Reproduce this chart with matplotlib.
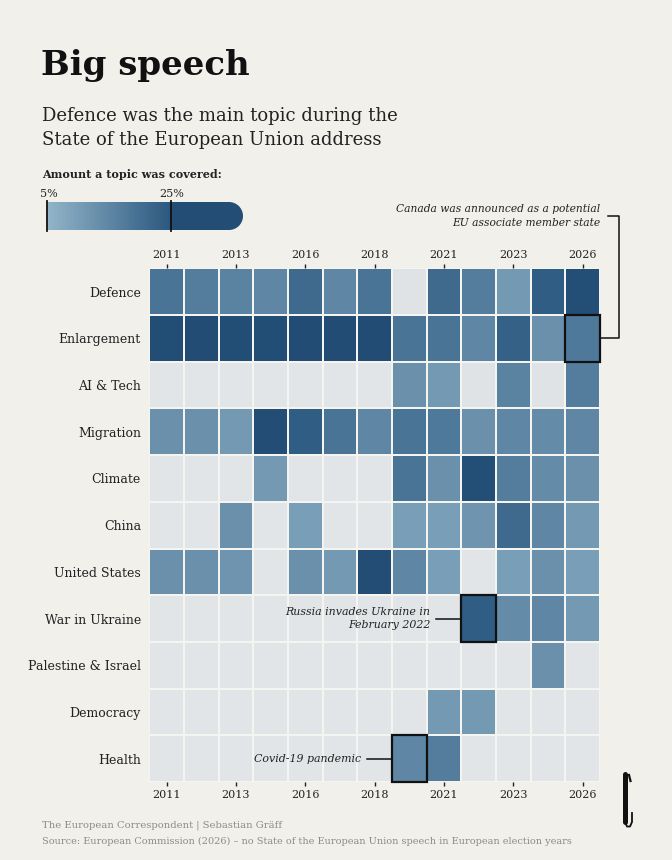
import numpy as np
import matplotlib
matplotlib.use("Agg")
import matplotlib.pyplot as plt
from matplotlib.colors import LinearSegmentedColormap, Normalize
from matplotlib.patches import Rectangle, Circle
from matplotlib.lines import Line2D

# speech years (no speech in European election years)
years = [2011, 2012, 2013, 2015, 2016, 2017, 2018, 2020, 2021, 2022, 2023, 2025, 2026]
topics = ["Defence", "Enlargement", "AI & Tech", "Migration", "Climate", "China",
          "United States", "War in Ukraine", "Palestine & Israel", "Democracy", "Health"]

# share of speech per topic (%)
defence = [19, 17, 16, 15, 21, 15, 19, 2, 21, 17, 11, 24, 25]
enlargement = [28, 29, 28, 28, 29, 29, 30, 19, 19, 15, 23, 13, 18]
ai_tech = [1, 1, 1, 1, 1, 1, 1, 13, 11, 2, 16, 2, 17]
migration = [13, 13, 11, 27, 24, 19, 15, 19, 18, 13, 15, 14, 15]
climate = [1, 1, 1, 11, 1, 1, 1, 19, 13, 25, 17, 14, 13]
china = [1, 1, 13, 1, 10, 1, 1, 10, 10, 12, 21, 15, 11]
united_states = [13, 13, 12, 1, 13, 11, 27, 15, 10, 1, 10, 13, 10]
war_ukraine = [1, 1, 1, 1, 1, 1, 1, 1, 1, 24, 14, 15, 11]
palestine_israel = [1, 1, 1, 1, 1, 1, 1, 1, 1, 1, 1, 13, 1]
democracy = [1, 1, 1, 1, 1, 1, 1, 1, 11, 11, 1, 1, 1]
health = [1, 1, 1, 1, 1, 1, 1, 15, 17, 1, 1, 1, 1]

legend_ticks = [5, 25]

# highlighted cells: (year, topic, note)
notes = [
    (2026, "Enlargement", "Canada was announced as a potential\nEU associate member state"),
    (2022, "War in Ukraine", "Russia invades Ukraine in\nFebruary 2022"),
    (2020, "Health", "Covid-19 pandemic"),
]

data = np.array([defence, enlargement, ai_tech, migration, climate, china,
                 united_states, war_ukraine, palestine_israel, democracy, health])

W, H = 672, 860
BG = "#f1f0eb"
plt.rcParams["font.family"] = "DejaVu Serif"


def fx(x):
    return x / W


def fy(y):
    return 1 - y / H


vmax = 30
cmap = LinearSegmentedColormap.from_list("speech", [
    (0, "#e4e7e8"), (4.99 / vmax, "#d8dee1"), (5 / vmax, "#93b5c9"),
    (25 / vmax, "#2b5880"), (25.01 / vmax, "#234e76"), (1, "#224c74")])
norm = Normalize(0, vmax)

fig = plt.figure(figsize=(W / 100, H / 100), dpi=100, facecolor=BG)

# titles
fig.text(fx(41), fy(75), "Big speech", fontsize=24.5, weight="bold", color="#111")
fig.text(fx(42), fy(121), "Defence was the main topic during the", fontsize=13, color="#222")
fig.text(fx(42), fy(145), "State of the European Union address", fontsize=13, color="#222")
fig.text(fx(42), fy(178), "Amount a topic was covered:", fontsize=8, weight="bold", color="#222")

# legend bar
lx0, lx1, lx_end = 47.5, 171, 243
lax = fig.add_axes([fx(40), fy(234), fx(210), (234 - 185) / H])
lax.set_xlim(40, 250)
lax.set_ylim(234, 185)
lax.axis("off")
grad = np.linspace(legend_ticks[0], legend_ticks[1], 256)[None, :]
lax.imshow(grad, cmap=cmap, norm=norm, extent=[lx0, lx1, 230, 202], aspect="auto")
r = 14
lax.add_patch(Rectangle((lx1, 202), lx_end - r - lx1, 28, color=cmap(norm(27)), lw=0))
lax.add_patch(Circle((lx_end - r, 216), r, color=cmap(norm(27)), lw=0))
for t, xp in zip(legend_ticks, [lx0, lx1]):
    lax.plot([xp, xp], [201, 231], color="#111", lw=1.3)
    lax.text(xp + 1, 197, f"{t}%", ha="center", va="baseline", fontsize=8, color="#222")

# heatmap
ax = fig.add_axes([fx(149.3), fy(782), fx(600) - fx(149.3), (782 - 268.3) / H])
ax.set_facecolor(BG)
ax.pcolormesh(data, cmap=cmap, norm=norm, edgecolors="#f4f4f1", linewidth=1.2)
ax.set_xlim(0, len(years))
ax.set_ylim(len(topics), 0)
ax.set_xticks(np.arange(0, len(years), 2) + 0.5, labels=[str(y) for y in years[::2]])
ax.set_yticks(np.arange(len(topics)) + 0.5, labels=topics)
ax.tick_params(axis="x", top=True, labeltop=True, bottom=True, labelbottom=True,
               length=3, width=1, color="#222", pad=3, labelsize=8, labelcolor="#222")
ax.tick_params(axis="y", length=0, pad=6, labelsize=9, labelcolor="#222")
for s in ax.spines.values():
    s.set_visible(False)

# highlighted cells and notes
for yr, topic, note in notes:
    c = years.index(yr)
    rr = topics.index(topic)
    ax.add_patch(Rectangle((c, rr), 1, 1, fill=False, ec="#111", lw=1.6, clip_on=False, zorder=5))
    if yr == 2026:
        ty = -1.12
        ax.text(c + 1, ty, note, ha="right", va="center", fontsize=7.7, style="italic",
                color="#222", linespacing=1.4)
        ax.plot([c + 1.23, c + 1.56, c + 1.56, c + 1], [ty, ty, rr + 0.5, rr + 0.5],
                color="#111", lw=1.1, clip_on=False)
    else:
        ax.text(c - 0.9, rr + 0.5, note, ha="right", va="center", fontsize=7.9, style="italic",
                color="#222", linespacing=1.4)
        ax.plot([c - 0.72, c], [rr + 0.5, rr + 0.5], color="#111", lw=1.1, clip_on=False)

# footer
fig.text(fx(42), fy(827), "The European Correspondent | Sebastian Gräff", fontsize=7.2, color="#8c8c87")
fig.text(fx(42), fy(844), "Source: European Commission (2026) – no State of the European Union speech in European election years",
         fontsize=7, color="#8c8c87")

# logo
fig.add_artist(Line2D([fx(625), fx(625)], [fy(774), fy(822)], color="#111", lw=3.6,
                      solid_capstyle="round"))
fig.add_artist(Line2D([fx(625), fx(627), fx(630), fx(632), fx(632)],
                      [fy(822), fy(826.5), fy(826.5), fy(822), fy(813)], color="#111", lw=1.3))
fig.add_artist(Line2D([fx(629), fx(630.5)], [fy(775), fy(781)], color="#111", lw=1.6))

fig.savefig("out.png", dpi=100, facecolor=BG)
